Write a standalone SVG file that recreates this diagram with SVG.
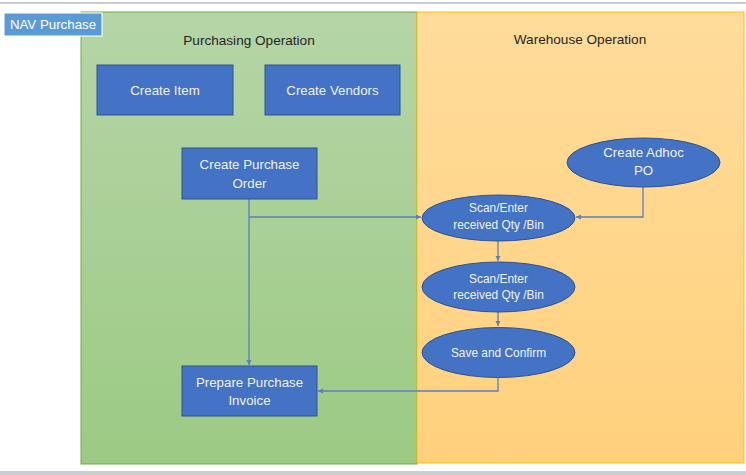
<svg xmlns="http://www.w3.org/2000/svg" width="746" height="475" viewBox="0 0 746 475">
<defs>
<linearGradient id="gGreen" x1="0" y1="0" x2="0" y2="1">
<stop offset="0" stop-color="#b5d5a6"/>
<stop offset="1" stop-color="#9cca84"/>
</linearGradient>
<linearGradient id="gOrange" x1="0" y1="0" x2="0" y2="1">
<stop offset="0" stop-color="#ffdc9b"/>
<stop offset="1" stop-color="#ffd17d"/>
</linearGradient>
<marker id="arr" markerWidth="6" markerHeight="6" refX="5" refY="3" orient="auto" markerUnits="userSpaceOnUse">
<path d="M0,0.5 L5,3 L0,5.5 Z" fill="#5b7fbc"/>
</marker>
<style>
.box{fill:#4472c4;stroke:#2f528f;stroke-width:1}
.ell{fill:#4472c4;stroke:#2f528f;stroke-width:1}
.t{font-family:"Liberation Sans",Arial,sans-serif;fill:#eef2fa;text-anchor:middle}
.t13{font-size:13.3px}
.t11{font-size:11.9px}
.hdr{font-family:"Liberation Sans",Arial,sans-serif;font-size:13.6px;fill:#262626;text-anchor:middle}
.con{fill:none;stroke:#5b7fbc;stroke-width:1.3}
</style>
</defs>
<rect x="0" y="0" width="746" height="475" fill="#ffffff"/>
<rect x="0" y="2" width="746" height="2" fill="#c9cdd5"/>
<rect x="0" y="471" width="746" height="4" fill="#c9cdd5"/>
<g id="lane-purchasing">
<rect x="81" y="12" width="336" height="452" fill="url(#gGreen)" stroke="#70ad47" stroke-width="1"/>
<text class="hdr" x="249" y="45">Purchasing Operation</text>
</g>
<g id="lane-warehouse">
<rect x="417" y="12" width="327" height="451" fill="url(#gOrange)" stroke="#ffc000" stroke-width="1"/>
<text class="hdr" x="580" y="44">Warehouse Operation</text>
</g>
<g id="nav-label">
<rect x="4" y="13" width="98" height="23" fill="#5b9bd5" stroke="#ffffff" stroke-width="1"/>
<text x="53" y="29" style="font-family:'Liberation Sans',Arial,sans-serif;font-size:13.3px;fill:#ffffff;text-anchor:middle">NAV Purchase</text>
</g>
<g id="connectors">
<path class="con" d="M249,199 V365" marker-end="url(#arr)"/>
<path class="con" d="M249,217 H421" marker-end="url(#arr)"/>
<path class="con" d="M643,187 V217 H576" marker-end="url(#arr)"/>
<path class="con" d="M498,241 V261" marker-end="url(#arr)"/>
<path class="con" d="M498,312 V326" marker-end="url(#arr)"/>
<path class="con" d="M498,378 V391 H318" marker-end="url(#arr)"/>
</g>
<g id="create-item">
<rect class="box" x="97" y="65" width="136" height="50"/>
<text class="t t13" x="165" y="94.5">Create Item</text>
</g>
<g id="create-vendors">
<rect class="box" x="265" y="65" width="135" height="50"/>
<text class="t t13" x="332.5" y="94.5">Create Vendors</text>
</g>
<g id="create-po">
<rect class="box" x="182" y="148" width="135" height="51"/>
<text class="t t13" x="249.5" y="169">Create Purchase</text>
<text class="t t13" x="249.5" y="188">Order</text>
</g>
<g id="prepare-invoice">
<rect class="box" x="182" y="366" width="135" height="50"/>
<text class="t t13" x="249.5" y="386.5">Prepare Purchase</text>
<text class="t t13" x="249.5" y="405">Invoice</text>
</g>
<g id="create-adhoc">
<ellipse class="ell" cx="643.5" cy="162.5" rx="76.5" ry="24.5"/>
<text class="t t13" x="643.5" y="157">Create Adhoc</text>
<text class="t t13" x="643.5" y="175">PO</text>
</g>
<g id="scan1">
<ellipse class="ell" cx="498.5" cy="218" rx="76.5" ry="23"/>
<text class="t t11" x="498.5" y="212">Scan/Enter</text>
<text class="t t11" x="498.5" y="229">received Qty /Bin</text>
</g>
<g id="scan2">
<ellipse class="ell" cx="498.5" cy="287" rx="76.5" ry="25"/>
<text class="t t11" x="498.5" y="283">Scan/Enter</text>
<text class="t t11" x="498.5" y="299">received Qty /Bin</text>
</g>
<g id="save-confirm">
<ellipse class="ell" cx="498.5" cy="352.5" rx="76.5" ry="25"/>
<text class="t t11" x="498.5" y="356.5">Save and Confirm</text>
</g>
</svg>
